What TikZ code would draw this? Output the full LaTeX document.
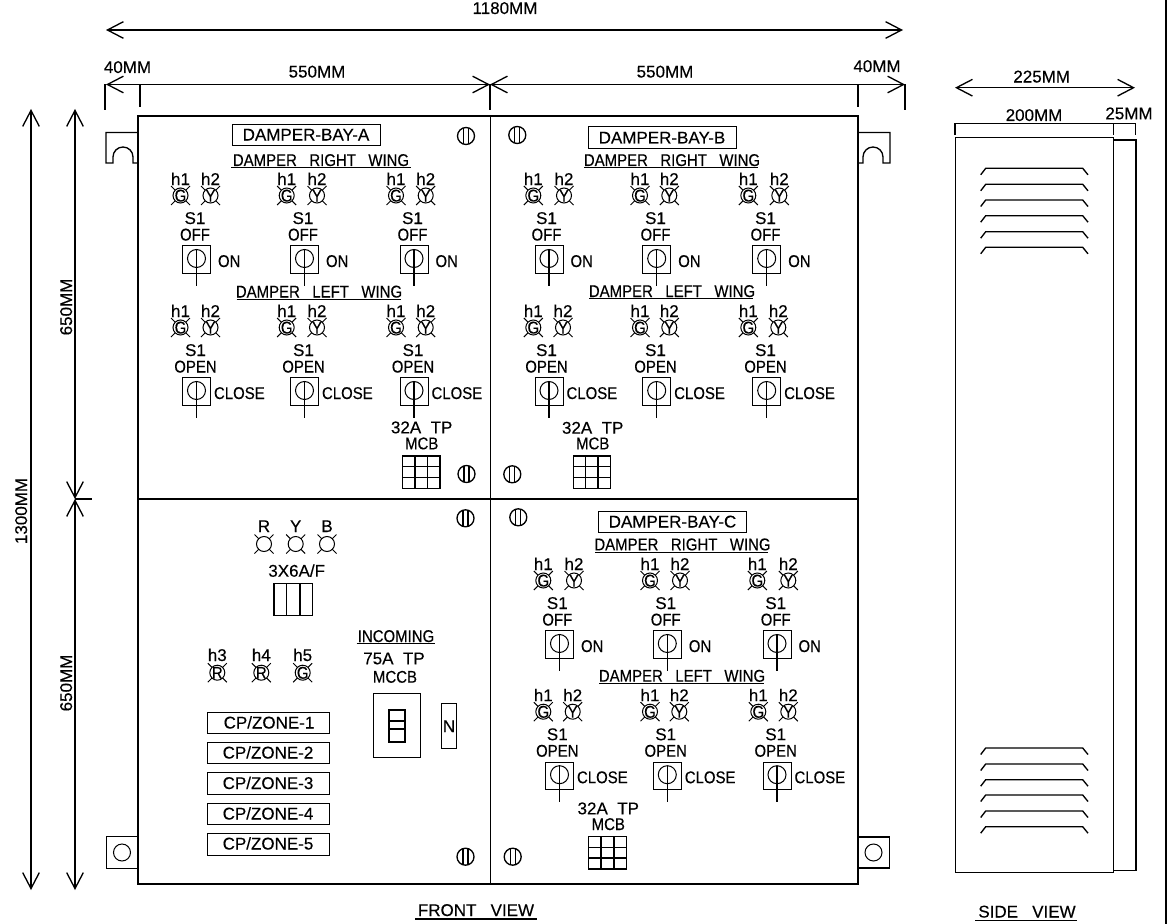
\documentclass[tikz,border=0pt]{standalone}
\usepackage{fontspec}
\usetikzlibrary{arrows.meta}
\setmainfont{Liberation Sans}[FakeBold=0.25]
\newfontfamily\narrow{Liberation Sans}[FakeStretch=0.88,FakeBold=0.25]
\newcount\tn
\newcommand\tx[4][]{\global\advance\tn by 1\relax
  \node[txt,#1] (t\the\tn) at (#2,#3) {#4};}
\tikzset{
  txt/.style={inner sep=0pt,outer sep=0pt,text height=9pt,text depth=0pt,font=\fontsize{12.75}{14}\selectfont},
  nar/.style={font=\fontsize{12.75}{14}\selectfont\narrow},
  thinl/.style={line width=.75pt,black},
  midl/.style={line width=1pt,black},
  gridl/.style={line width=1.15pt,black},
  heavy/.style={line width=1.35pt,black},
  dimline/.style={line width=1pt,black,{Straight Barb[length=12pt,width=12.5pt]}-{Straight Barb[length=12pt,width=12.5pt]}},
  louvre/.style={line width=1pt,black}
}
% lamps
\newcommand\lamp[2]{%
  \draw[thinl] (#1,#2) circle (7.5);
  \draw[thinl] (#1,#2) +(5.3,5.3) -- +(9.5,9.5) +(-5.3,5.3) -- +(-9.5,9.5) +(5.3,-5.3) -- +(9.5,-9.5) +(-5.3,-5.3) -- +(-9.5,-9.5);}
\newcommand\lampl[3]{\lamp{#1}{#2}\tx[nar]{#1}{#2}{#3}}
% switch group: cx cy h1x h2x sx top side sidex
\newcommand\swg[8]{%
  \pgfmathsetmacro\ylamp{#2-64}\pgfmathsetmacro\yh{#2-80.5}\pgfmathsetmacro\ys{#2-41.5}\pgfmathsetmacro\yt{#2-25}\pgfmathsetmacro\yside{#2+1.5}%
  \pgfmathsetmacro\xside{#1+#8}\pgfmathsetmacro\ybot{#2+26}%
  \tx{#3}{\yh}{h1}\tx{#4}{\yh}{h2}%
  \lampl{#3}{\ylamp}{G}\lampl{#4}{\ylamp}{Y}%
  \tx{#5}{\ys}{S1}\tx[nar]{#5}{\yt}{#6}%
  \draw[thinl] (#1,#2) +(-14,-13.7) rectangle +(14,13.7);
  \draw[thinl] (#1,#2) ++(0,-1) circle (9);
  \draw[midl] (#1,#2) ++(0,-10) -- (#1,\ybot);
  \tx[nar,anchor=west]{\xside}{\yside}{#7}}
% screw
\newcommand\screw[2]{%
  \draw[midl] (#1,#2) circle (8.5);
  \draw[midl] (#1,#2) +(-2.5,-8) -- +(-2.5,8) +(2.5,-8) -- +(2.5,8);}
% MCB grid: x1 x2 y1 y2
\newcommand\mcb[4]{%
  \draw[gridl] (#1,#3) rectangle (#2,#4);
  \pgfmathsetmacro\va{#1+(#2-#1)*0.33}\pgfmathsetmacro\vb{#1+(#2-#1)*0.66}%
  \pgfmathsetmacro\ha{#3+(#4-#3)*0.33}\pgfmathsetmacro\hb{#3+(#4-#3)*0.66}%
  \draw[gridl] (\va,#3) -- (\va,#4) (\vb,#3) -- (\vb,#4) (#1,\ha) -- (#2,\ha) (#1,\hb) -- (#2,\hb);}
\newcommand\louv[1]{%
  \pgfmathsetmacro\yy{#1+6.5}%
  \draw[louvre] (980.7,\yy) -- (985.7,#1) -- (1082.7,#1) -- (1088,\yy);}
\begin{document}
\begin{tikzpicture}[x=.75pt,y=-.75pt]
\useasboundingbox (0,0) rectangle (1171,924);
\fill[white] (0,0) rectangle (1171,924);
% right sheet border
\coordinate (bt) at (1166,0); \coordinate (bb) at (1166,924);
\draw[line width=1.6pt] (bt) -- (bb);
% main frame
\draw[heavy] (138,116) rectangle (858,884);
\draw[heavy] (490.5,116) -- (490.5,884) (138,499) -- (858,499);
% lugs
\draw[midl] (138,132.5) -- (106,132.5) -- (106,163) -- (113,163) -- (113,157) arc[start angle=180,end angle=360,radius=10] -- (133,163) -- (138,163);
\draw[midl] (858,132.5) -- (890,132.5) -- (890,163) -- (883,163) -- (883,157) arc[start angle=360,end angle=180,radius=10] -- (863,163) -- (858,163);
\draw[thinl] (138,836.7) -- (106,836.7) -- (106,868.3) -- (138,868.3);
\draw[thinl] (122,852.5) circle (8.5);
\draw[heavy] (858,836.7) -- (889.5,836.7) -- (889.5,868.3) -- (858,868.3);
\draw[thinl] (873.5,852.5) circle (8.5);
% dimensions
\coordinate (oa) at (106,30); \coordinate (ob) at (903,30);
\draw[dimline] (oa) -- (ob);
\tx{505}{8}{1180MM}
\coordinate (wa) at (106,84.5); \coordinate (wm) at (490,84.5); \coordinate (wb) at (905,84.5);
\draw[dimline] (wa) -- (wm);
\draw[dimline] (wm) -- (wb);
\coordinate (ta) at (105,110); \coordinate (taa) at (105,84.5);
\coordinate (tb) at (140,107); \coordinate (tbb) at (140,84.5);
\coordinate (tm) at (490,110); 
\coordinate (tc) at (858,107); \coordinate (tcc) at (858,84.5);
\coordinate (td) at (905,110); \coordinate (tdd) at (905,84.5);
\draw[midl] (taa) -- (ta) (tbb) -- (tb) (wm) -- (tm) (tcc) -- (tc) (tdd) -- (td);
\tx{127.5}{67}{40MM}\tx{317}{71.5}{550MM}\tx{665}{71.5}{550MM}\tx{877}{66}{40MM}
\coordinate (va) at (31,109); \coordinate (vb) at (31,890);
\draw[dimline] (va) -- (vb);
\coordinate (ua) at (75,109); \coordinate (um) at (75,499); \coordinate (ub) at (75,890); \coordinate (ut) at (92,499);
\draw[dimline] (ua) -- (um);
\draw[dimline] (um) -- (ub);
\draw[midl] (um) -- (ut);
\tx[rotate=90]{21}{511}{1300MM}
\tx[rotate=90]{66}{307}{650MM}
\tx[rotate=90]{66}{683}{650MM}
% BAY A
\draw[thinl] (232.3,124) rectangle (380.7,145);
\tx{306}{134.5}{DAMPER-BAY-A}
\tx[nar]{321}{160}{DAMPER\ \ \ RIGHT\ \ \ WING}
\draw[midl] (231,167.3) -- (411,167.3);
\swg{196.5}{259.5}{180.5}{210.5}{195}{OFF}{ON}{21.5}
\swg{304.5}{259.5}{286.7}{317}{303}{OFF}{ON}{21.5}
\swg{414}{259.5}{396}{425.7}{412.5}{OFF}{ON}{21.5}
\tx[nar]{319}{291.5}{DAMPER\ \ \ LEFT\ \ \ WING}
\draw[midl] (236.7,299.3) -- (400.7,299.3);
\swg{196.5}{391.5}{180.5}{210.5}{195.5}{OPEN}{CLOSE}{17.5}
\swg{304.5}{391.5}{286.7}{317}{303.5}{OPEN}{CLOSE}{17.5}
\swg{414}{391.5}{396}{425.7}{413}{OPEN}{CLOSE}{17.5}
\tx{421.7}{427.3}{32A\ \ TP}\tx[nar]{421.7}{443.3}{MCB}
\mcb{402.7}{440}{456}{488.3}
\screw{466}{136}\screw{466.5}{474}
% BAY B
\draw[thinl] (588.3,126.7) rectangle (736,148.3);
\tx{662}{137.5}{DAMPER-BAY-B}
\tx[nar]{672}{160}{DAMPER\ \ \ RIGHT\ \ \ WING}
\draw[midl] (584.3,167.3) -- (758.3,167.3);
\swg{549}{259.5}{533.3}{564}{546.5}{OFF}{ON}{21.5}
\swg{656.7}{259.5}{640}{669.3}{655.5}{OFF}{ON}{21.5}
\swg{766.7}{259.5}{748.3}{779.3}{765.5}{OFF}{ON}{21.5}
\tx[nar]{672}{291}{DAMPER\ \ \ LEFT\ \ \ WING}
\draw[midl] (589.3,298.5) -- (753.3,298.5);
\swg{549}{391.5}{533.3}{563}{546.5}{OPEN}{CLOSE}{17.5}
\swg{656.7}{391.5}{640}{669.3}{655.5}{OPEN}{CLOSE}{17.5}
\swg{766.7}{391.5}{748.3}{778.3}{765.5}{OPEN}{CLOSE}{17.5}
\tx{592.7}{427.7}{32A\ \ TP}\tx[nar]{592.7}{443.3}{MCB}
\mcb{573.3}{610.7}{456}{488.3}
\screw{517.3}{135}\screw{512.3}{474.3}
% BAY C
\draw[thinl] (598.3,511) rectangle (746.7,532.3);
\tx{672.5}{521.5}{DAMPER-BAY-C}
\tx[nar]{682.5}{544.3}{DAMPER\ \ \ RIGHT\ \ \ WING}
\draw[midl] (595,552.3) -- (768.3,552.3);
\swg{559.5}{644.5}{543.3}{574}{557.3}{OFF}{ON}{21.5}
\swg{667.3}{644.5}{650}{680}{665.7}{OFF}{ON}{21.5}
\swg{777}{644.5}{757.3}{788.3}{775.7}{OFF}{ON}{21.5}
\tx[nar]{682}{675.7}{DAMPER\ \ \ LEFT\ \ \ WING}
\draw[midl] (599.3,683.3) -- (764,683.3);
\swg{559.5}{775.7}{543.3}{572.7}{557.3}{OPEN}{CLOSE}{17.5}
\swg{667.3}{775.7}{650}{679.3}{665.7}{OPEN}{CLOSE}{17.5}
\swg{777}{775.7}{758.3}{788.3}{775.7}{OPEN}{CLOSE}{17.5}
\tx{608.3}{808.3}{32A\ \ TP}\tx[nar]{608.3}{824}{MCB}
\mcb{588.7}{626.7}{836.7}{869}
\screw{518.3}{517.3}\screw{512.7}{856.7}
% INCOMER PANEL
\tx{264}{526}{R}\tx{295.7}{526}{Y}\tx{327}{526}{B}
\lamp{264}{544}\lamp{295.7}{544}\lamp{327}{544}
\tx{296.7}{570.7}{3X6A/F}
\draw[gridl] (274,583.3) rectangle (312.7,615.3);
\draw[gridl] (286.7,583.3) -- (286.7,615.3) (300,583.3) -- (300,615.3);
\tx{217.3}{655}{h3}\tx{261.3}{655}{h4}\tx{302.7}{655}{h5}
\lampl{217.3}{672.7}{R}\lampl{261.3}{672.7}{R}\lampl{302.7}{672.7}{G}
\tx[nar]{396}{636}{INCOMING}
\draw[midl] (356.7,643.7) -- (435,643.7);
\tx{394}{658.3}{75A\ \ TP}\tx[nar]{395}{676.7}{MCCB}
\draw[thinl] (373,693.7) rectangle (420.3,757);
\draw[heavy] (388.7,710) rectangle (404.7,741.7);
\draw[midl] (388.7,721) -- (404.7,721) (388.7,729) -- (404.7,729);
\draw[thinl] (441,703.3) rectangle (456.7,748.3);
\tx{449}{726}{N}
\draw[thinl] (207.3,712) rectangle (329.3,733.3);
\draw[thinl] (207.3,742.3) rectangle (329.3,763.5);
\draw[thinl] (207.3,772.7) rectangle (329.3,794);
\draw[thinl] (207.3,803) rectangle (329.3,824.7);
\draw[thinl] (207.3,833.3) rectangle (329.3,855);
\tx{269}{722.5}{CP/ZONE-1}
\tx{268}{752.5}{CP/ZONE-2}
\tx{268}{783}{CP/ZONE-3}
\tx{268}{813.5}{CP/ZONE-4}
\tx{268}{843.5}{CP/ZONE-5}
\screw{465.5}{518.3}\screw{465.5}{856.7}
% SIDE VIEW
\coordinate (sa) at (955,87.7); \coordinate (sb) at (1135,87.7);
\draw[dimline] (sa) -- (sb);
\tx{1041.7}{76.5}{225MM}
\tx{1034}{115}{200MM}\tx{1129}{113.3}{25MM}
\coordinate (p1) at (955,135); \coordinate (p2) at (955,123.3); \coordinate (p3) at (1135.7,123.3); \coordinate (p4) at (1135.7,135);
\coordinate (p5) at (1113.5,123.3); \coordinate (p6) at (1113.5,135);
\draw[midl] (p1) -- (p2) -- (p3) -- (p4) (p5) -- (p6);
\draw[midl] (1113.7,140) -- (1136,140) -- (1136,870.7) -- (1113.7,870.7);
\draw[thinl] (955,137.3) rectangle (1113.7,872.3);
\louv{168.3}\louv{184.3}\louv{200}\louv{215.7}\louv{231.7}\louv{247.3}
\louv{748}\louv{764}\louv{779.7}\louv{795}\louv{811}\louv{826.7}
% view titles
\tx{476}{910}{FRONT\ \ \ VIEW}
\draw[midl] (415,919) -- (537,919);
\tx{1027}{911.5}{SIDE\ \ \ VIEW}
\draw[midl] (975,920.3) -- (1077,920.3);
\end{tikzpicture}
\end{document}
